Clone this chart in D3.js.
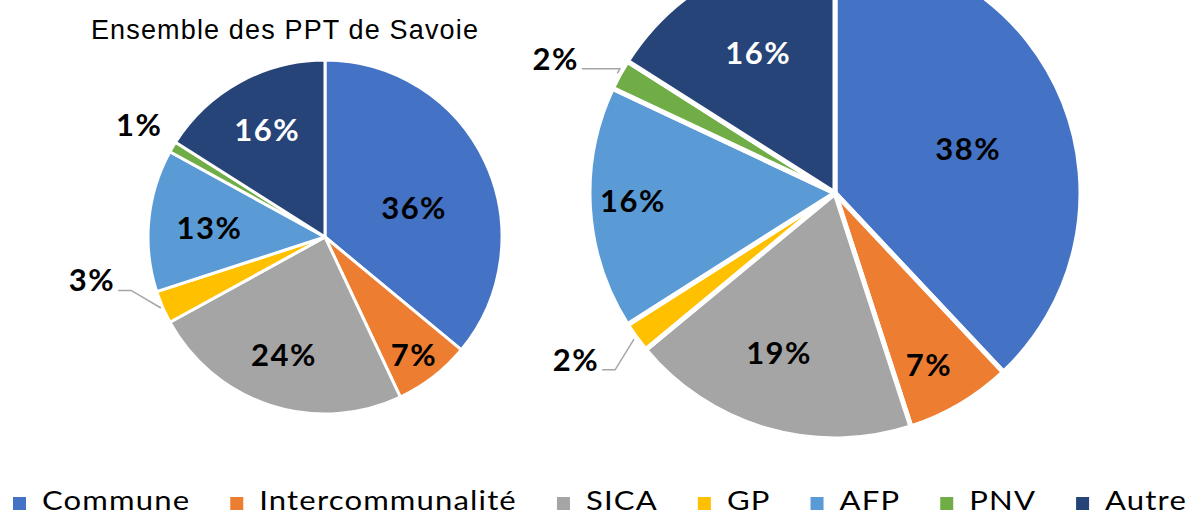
<!DOCTYPE html>
<html>
<head>
<meta charset="utf-8">
<script src="https://cdn.jsdelivr.net/npm/d3@7"></script>
<style>
  html, body { margin: 0; padding: 0; background: #fff; }
  svg { display: block; }
</style>
</head>
<body>
<svg id="chart" width="1191" height="516"></svg>
<script>
const categories = ['Commune', 'Intercommunalité', 'SICA', 'GP', 'AFP', 'PNV', 'Autre'];
const colors = ['#4472C4', '#ED7D31', '#A5A5A5', '#FFC000', '#5B9BD5', '#70AD47', '#264478'];
const savoieValues = [36, 7, 24, 3, 13, 1, 16];
const secondValues = [38, 7, 19, 2, 16, 2, 16];
const title = 'Ensemble des PPT de Savoie';

const svg = d3.select('#chart');

// layout for each pie: inside labels are placed at (mid angle + da degrees, rf * radius),
// outside labels get an elbow point with the same kind of polar offset
const pies = [
  {
    values: savoieValues, cx: 325, cy: 237, r: 177, stroke: 3,
    inside: {
      0: { da: 7, rf: 0.524 },
      1: { da: 1, rf: 0.83 },
      2: { da: 1.6, rf: 0.71 },
      4: { da: -1, rf: 0.66 },
      6: { da: 0, rf: 0.69 }
    },
    outside: {
      3: { da: 8, rf: 1.136, h: 13, line: true },
      5: { da: 2, rf: 1.07, h: 0, line: false }
    }
  },
  {
    values: secondValues, cx: 835, cy: 193, r: 246, stroke: 5,
    inside: {
      0: { da: 3.2, rf: 0.566 },
      1: { da: 2.2, rf: 0.795 },
      2: { da: 3.4, rf: 0.69 },
      4: { da: 1.3, rf: 0.826 },
      6: { da: -0.3, rf: 0.65 }
    },
    outside: {
      3: { da: -2.8, rf: 1.147, h: 13, line: true },
      5: { da: 1.2, rf: 1.01, h: 38, line: true }
    }
  }
];

const pie = d3.pie().sort(null).value((d) => d);
const polar = (a, rad) => [Math.sin(a) * rad, -Math.cos(a) * rad];
const deg = Math.PI / 180;

function pctLabel(g, x, y, txt, anchor, fill) {
  return g.append('text')
    .attr('x', x)
    .attr('y', y)
    .attr('text-anchor', anchor)
    .attr('font-family', 'Lato, sans-serif')
    .attr('font-weight', 700)
    .attr('font-size', 31)
    .attr('letter-spacing', 1.5)
    .attr('fill', fill)
    .text(txt);
}

pies.forEach((p) => {
  const g = svg.append('g').attr('transform', `translate(${p.cx},${p.cy})`);
  const arcs = pie(p.values);
  const arc = d3.arc().innerRadius(0).outerRadius(p.r);

  g.selectAll('path.slice')
    .data(arcs)
    .join('path')
    .attr('class', 'slice')
    .attr('d', arc)
    .attr('fill', (d, i) => colors[i])
    .attr('stroke', '#fff')
    .attr('stroke-width', p.stroke)
    .attr('stroke-linejoin', 'round');

  arcs.forEach((d, i) => {
    const mid = (d.startAngle + d.endAngle) / 2;
    const txt = `${p.values[i]}%`;
    const inn = p.inside[i];
    if (inn) {
      const [x, y] = polar(mid + inn.da * deg, p.r * inn.rf);
      pctLabel(g, x + 1, y + 11, txt, 'middle', i === 6 ? '#fff' : '#000');
      return;
    }
    const o = p.outside[i];
    const start = polar(mid, p.r * 1.01);
    const elbow = polar(mid + o.da * deg, p.r * o.rf);
    const end = [elbow[0] - o.h, elbow[1]];
    if (o.line) {
      g.append('polyline')
        .attr('points', [start, elbow, end].map((pt) => pt.join(',')).join(' '))
        .attr('fill', 'none')
        .attr('stroke', '#A6A6A6')
        .attr('stroke-width', 1.5);
    }
    pctLabel(g, end[0] - 3, end[1] + 1, txt, 'end', '#000');
  });
});

// title, stretched a little to the reference width
const titleText = svg.append('text')
  .attr('x', 285)
  .attr('y', 39)
  .attr('text-anchor', 'middle')
  .attr('font-family', '"Liberation Sans", Arial, sans-serif')
  .attr('font-size', 27)
  .attr('fill', '#000')
  .text(title);
const tw = titleText.node().getComputedTextLength();
titleText.attr('letter-spacing', (387 - tw) / (title.length - 1));

// legend: spread across the full width, glyphs widened to fit like the reference
const legend = svg.append('g').attr('class', 'legend');
const box = 13;
const boxGap = 16;
const itemGap = 40;
const baseY = 510;
const items = legend.selectAll('g')
  .data(categories)
  .join('g');
items.append('rect')
  .attr('width', box)
  .attr('height', box)
  .attr('y', 497)
  .attr('fill', (d, i) => colors[i]);
const labels = items.append('text')
  .attr('font-family', 'Lato, sans-serif')
  .attr('font-size', 27)
  .attr('letter-spacing', 1)
  .attr('fill', '#000')
  .text((d) => d);

const x0 = 13;
const x1 = 1187;
const rawW = labels.nodes().map((n) => n.getComputedTextLength());
const sx = (x1 - x0 - categories.length * (box + boxGap) - (categories.length - 1) * itemGap) / d3.sum(rawW);
labels.attr('transform', `translate(${box + boxGap},${baseY}) scale(${sx},1)`);
let cur = x0;
items.each(function (d, i) {
  d3.select(this).attr('transform', `translate(${cur},0)`);
  cur += box + boxGap + rawW[i] * sx + itemGap;
});
</script>
</body>
</html>
